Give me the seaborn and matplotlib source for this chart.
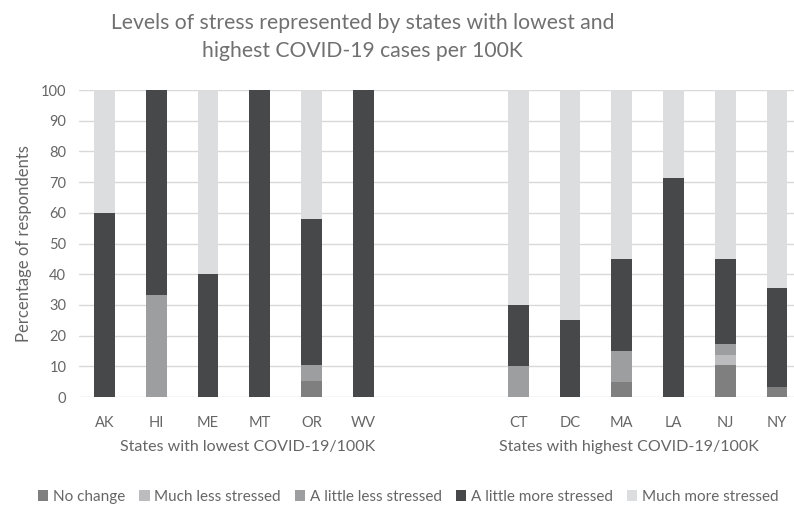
import numpy as np
import pandas as pd
import matplotlib
matplotlib.use("Agg")
import matplotlib.pyplot as plt
import seaborn as sns

# Survey results: share of respondents (%) at each stress level per state
states_low = ["AK", "HI", "ME", "MT", "OR", "WV"]
states_high = ["CT", "DC", "MA", "LA", "NJ", "NY"]
states = states_low + states_high

levels = ["No change", "Much less stressed", "A little less stressed",
          "A little more stressed", "Much more stressed"]

no_change =          [0, 0,     0,  0,   5.26,  0,   0,  0,  5,  0,    10.34, 3.23]
much_less =          [0, 0,     0,  0,   0,     0,   0,  0,  0,  0,    3.45,  0]
little_less =        [0, 33.33, 0,  0,   5.26,  0,   10, 0,  10, 0,    3.45,  0]
little_more =        [60, 66.67, 40, 100, 47.37, 100, 20, 25, 30, 71.43, 27.59, 32.26]
much_more =          [40, 0,    60, 0,   42.11, 0,   70, 75, 55, 28.57, 55.17, 64.51]

group_labels = ["States with lowest COVID-19/100K", "States with highest COVID-19/100K"]
title = "Levels of stress represented by states with lowest and\nhighest COVID-19 cases per 100K"
y_label = "Percentage of respondents"

colors = ["#7f7f80", "#bcbcbe", "#9d9ea0", "#47484a", "#dcdddf"]
text_color = "#666666"

df = pd.DataFrame({
    "state": states,
    levels[0]: no_change,
    levels[1]: much_less,
    levels[2]: little_less,
    levels[3]: little_more,
    levels[4]: much_more,
})
# cumulative tops for stacking
cum = df[levels].cumsum(axis=1)
cum["state"] = df["state"]

# two empty slots separate the groups
order = states_low + [" ", "  "] + states_high

sns.set_theme(style="white")
plt.rcParams["font.family"] = ["Lato", "DejaVu Sans"]

fig = plt.figure(figsize=(7.94, 5.08), dpi=100)
ax = fig.add_axes([0.0992, 0.2185, 1 - 0.0992, 0.6043])

# draw from the tallest cumulative layer down so each layer shows its segment
for lvl, col in reversed(list(zip(levels, colors))):
    sns.barplot(data=cum, x="state", y=lvl, order=order, color=col,
                width=0.4, saturation=1, ax=ax, errorbar=None, label=lvl,
                linewidth=0)

ax.set_ylim(0, 100)
ax.set_xlim(-0.5, 13.33)
ax.set_yticks(np.arange(0, 101, 10))
ax.yaxis.grid(True, color="#d9d9d9", linewidth=1)
ax.set_axisbelow(True)
for s in ax.spines.values():
    s.set_visible(False)
ax.tick_params(axis="both", length=0, labelsize=10.5, colors=text_color)
ax.tick_params(axis="x", pad=13.5)
ax.tick_params(axis="y", pad=9)
ax.set_xlabel("")
ax.set_ylabel(y_label, fontsize=12, color=text_color, labelpad=6)
if ax.get_legend() is not None:
    ax.get_legend().remove()

# group labels under the state ticks
for xpos, lab in zip([2.77, 10.14], group_labels):
    ax.text(xpos, -0.163, lab, transform=ax.get_xaxis_transform(),
            ha="center", va="center", fontsize=11.5, color=text_color)

fig.text(0.457, 0.927, title, ha="center", va="center", fontsize=15.2,
         color="#707070", linespacing=1.55)

handles, labels = ax.get_legend_handles_labels()
hmap = dict(zip(labels, handles))
fig.legend([hmap[l] for l in levels], levels, loc="center", ncol=5,
           bbox_to_anchor=(0.514, 0.022), frameon=False, fontsize=11,
           labelcolor=text_color, handlelength=0.7, handleheight=0.7,
           handletextpad=0.3, columnspacing=0.9)

fig.savefig("out.png", dpi=100)
